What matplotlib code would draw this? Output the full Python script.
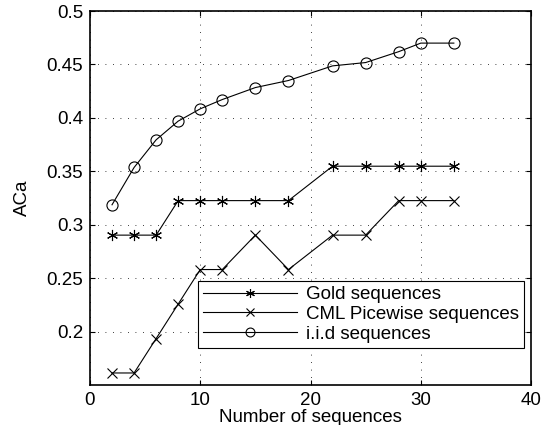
import numpy as np
import matplotlib.pyplot as plt

plt.rcParams['font.family'] = ['Liberation Sans', 'DejaVu Sans']

# 数据
n_seq = [2, 4, 6, 8, 10, 12, 15, 18, 22, 25, 28, 30, 33]
gold = [0.2903, 0.2903, 0.2903, 0.3226, 0.3226, 0.3226, 0.3226, 0.3226,
        0.3548, 0.3548, 0.3548, 0.3548, 0.3548]
cml = [0.1613, 0.1613, 0.1935, 0.2258, 0.2581, 0.2581, 0.2903, 0.2581,
       0.2903, 0.2903, 0.3226, 0.3226, 0.3226]
iid = [0.3187, 0.3536, 0.3795, 0.397, 0.4085, 0.4172, 0.4284, 0.435,
       0.4487, 0.4518, 0.462, 0.470, 0.470]

fig = plt.figure(figsize=(5.52, 4.25), dpi=100)
ax = fig.add_axes([0.163, 0.094, 0.799, 0.880])

ax.plot(n_seq, gold, color='k', lw=0.8, marker=(6, 2, 0), ms=8, mew=0.8,
        label='Gold sequences')
ax.plot(n_seq, cml, color='k', lw=0.8, marker='x', ms=7, mew=0.8,
        label='CML Picewise sequences')
ax.plot(n_seq, iid, color='k', lw=0.8, marker='o', ms=8, mew=0.8,
        mfc='none', label='i.i.d sequences')

ax.set_xlim(0, 40)
ax.set_ylim(0.15, 0.5)
ax.set_xticks([0, 10, 20, 30, 40])
ax.set_yticks([0.2, 0.25, 0.3, 0.35, 0.4, 0.45, 0.5])
ax.set_yticklabels(['0.2', '0.25', '0.3', '0.35', '0.4', '0.45', '0.5'])
ax.grid(True, color='k', linestyle=(0, (1, 8)), lw=0.6)
ax.tick_params(direction='in', labelsize=13.5, top=True, right=True, pad=5)
for s in ax.spines.values():
    s.set_linewidth(1.2)

ax.set_xlabel('Number of sequences', fontsize=13.5, labelpad=0)
ax.set_ylabel('ACa', fontsize=13.5, labelpad=11)

leg = ax.legend(loc='lower right', bbox_to_anchor=(0.984, 0.1), fontsize=13.5,
                fancybox=False, edgecolor='k', framealpha=1,
                handlelength=5.0, handletextpad=0.5, borderpad=0.25,
                labelspacing=0.15, borderaxespad=0, markerscale=0.8)
leg.get_frame().set_linewidth(0.8)

fig.savefig('out.png', dpi=100)
